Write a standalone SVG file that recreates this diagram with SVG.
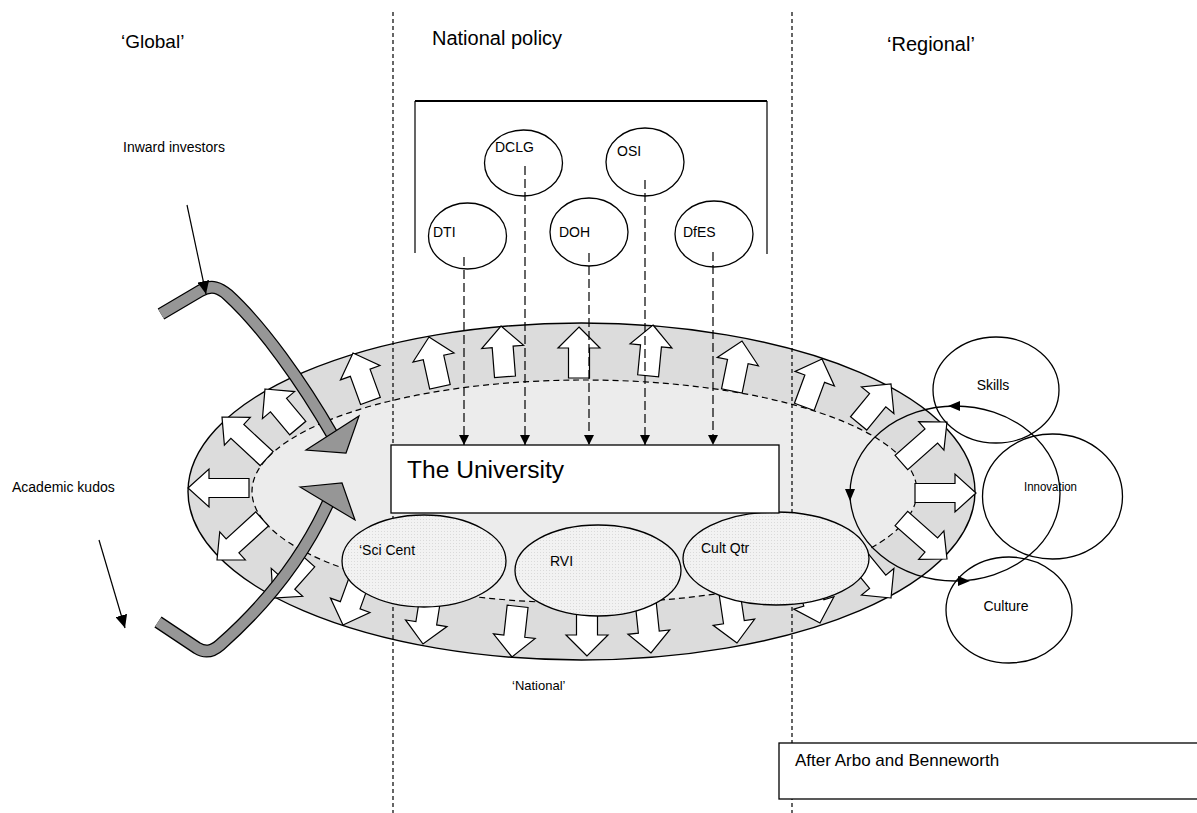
<svg xmlns="http://www.w3.org/2000/svg" xmlns:xlink="http://www.w3.org/1999/xlink" width="1197" height="813" viewBox="0 0 1197 813">
<style>
text{font-family:"Liberation Sans",Arial,sans-serif;fill:#000}
.ol{fill:none;stroke:#000;stroke-width:1.3}
.wf{fill:#fff;stroke:#000;stroke-width:1.3}
.ba{fill:#fff;stroke:#000;stroke-width:1.2;stroke-linejoin:miter}
.div{stroke:#000;stroke-width:1.2;stroke-dasharray:4 3;fill:none}
.pl{stroke:#000;stroke-width:1.2;stroke-dasharray:9 4;fill:none}
.thin{stroke:#000;stroke-width:1.2;fill:none}
.gb{fill:none;stroke:#000;stroke-width:13;stroke-linejoin:round}
.gf{fill:none;stroke:#969696;stroke-width:10.5;stroke-linejoin:round}
.gh{fill:#969696;stroke:#000;stroke-width:1.2;stroke-linejoin:miter}
.sm{fill:url(#stip);stroke:#000;stroke-width:1.3}
</style>
<defs>
<pattern id="stip" width="3" height="3" patternUnits="userSpaceOnUse"><rect width="3" height="3" fill="#f2f2f2"/><rect width="1" height="1" fill="#dadada"/></pattern>
<marker id="ah" markerWidth="10" markerHeight="10" refX="10" refY="5" orient="auto" markerUnits="userSpaceOnUse"><path d="M0,0 L10,5 L0,10 Z" fill="#000"/></marker>
<marker id="ah2" markerWidth="13" markerHeight="12" refX="13" refY="6" orient="auto" markerUnits="userSpaceOnUse"><path d="M0,0 L13,6 L0,12 Z" fill="#000"/></marker>
<path id="a51" d="M0,0 L21,21 L10.5,21 L10.5,51 L-10.5,51 L-10.5,21 L-21,21 Z"/>
<path id="a60" d="M0,0 L19,21 L9.5,21 L9.5,61 L-9.5,61 L-9.5,21 L-19,21 Z"/>
</defs>
<rect width="1197" height="813" fill="#fff"/>

<g id="ring">
<ellipse cx="581.5" cy="491.5" rx="393.5" ry="168.5" fill="#dcdcdc" stroke="#000" stroke-width="1.4"/>
<ellipse cx="584.5" cy="491.5" rx="332.5" ry="111.5" fill="#ececec" stroke="#000" stroke-width="1.2" stroke-dasharray="6 4"/>
</g>

<g id="ring-arrows" class="ba">
<use xlink:href="#a51" transform="translate(429,337) rotate(-12.4)"/>
<use xlink:href="#a51" transform="translate(501,326) rotate(-4.5)"/>
<use xlink:href="#a51" transform="translate(579,327)"/>
<use xlink:href="#a51" transform="translate(653,325) rotate(5.5)"/>
<use xlink:href="#a51" transform="translate(742,341) rotate(11.5)"/>
<use xlink:href="#a51" transform="translate(822,359) rotate(20.3)"/>
<use xlink:href="#a51" transform="translate(891,384) rotate(39.4)"/>
<use xlink:href="#a60" transform="translate(947,422) rotate(48.4)"/>
<use xlink:href="#a60" transform="translate(976,493) rotate(90)"/>
<use xlink:href="#a60" transform="translate(947,559) rotate(131.6)"/>
<use xlink:href="#a51" transform="translate(891,598) rotate(140.6)"/>
<use xlink:href="#a51" transform="translate(820,623) rotate(163)"/>
<use xlink:href="#a51" transform="translate(737,643) rotate(171.5)"/>
<use xlink:href="#a51" transform="translate(651,653) rotate(174)"/>
<use xlink:href="#a51" transform="translate(587,656) rotate(180)"/>
<use xlink:href="#a51" transform="translate(512,657) rotate(186.3)"/>
<use xlink:href="#a51" transform="translate(423,644) rotate(189)"/>
<use xlink:href="#a51" transform="translate(343,625) rotate(200)"/>
<use xlink:href="#a51" transform="translate(273,598) rotate(221.6)"/>
<use xlink:href="#a60" transform="translate(217,560) rotate(227.7)"/>
<use xlink:href="#a60" transform="translate(188,488) rotate(270)"/>
<use xlink:href="#a60" transform="translate(222,417) rotate(313)"/>
<use xlink:href="#a51" transform="translate(265,389) rotate(320)"/>
<use xlink:href="#a51" transform="translate(353,353) rotate(340)"/>
</g>

<g id="dividers">
<line class="div" x1="393" y1="12" x2="393" y2="813"/>
<line class="div" x1="792" y1="12" x2="792" y2="813"/>
</g>

<g id="sci-cent"><ellipse class="sm" cx="424" cy="561" rx="82" ry="46"/><text x="359" y="555" font-size="14">‘Sci Cent</text></g>
<g id="rvi"><ellipse class="sm" cx="598" cy="570.5" rx="83" ry="45.5"/><text x="550" y="566" font-size="14">RVI</text></g>
<g id="cult-qtr"><ellipse class="sm" cx="776" cy="558.5" rx="93" ry="46.5"/><text x="701" y="553" font-size="14">Cult Qtr</text></g>

<g id="university"><rect class="wf" x="391" y="445" width="388" height="68"/><text x="407" y="478" font-size="23" textLength="157" lengthAdjust="spacingAndGlyphs">The University</text></g>

<g id="policy">
<path d="M415,101 L767,101" stroke="#000" stroke-width="2.2" fill="none"/>
<path d="M415,101 L415,253 M767,101 L767,254" class="thin" stroke-width="1.5"/>
</g>
<g id="dti"><ellipse class="wf" cx="467.5" cy="236" rx="39" ry="33"/><text x="433" y="237" font-size="14">DTI</text></g>
<g id="dclg"><ellipse class="wf" cx="523.5" cy="163" rx="39" ry="33"/><text x="495" y="152" font-size="14">DCLG</text></g>
<g id="doh"><ellipse class="wf" cx="589" cy="232" rx="39" ry="34"/><text x="559" y="237" font-size="14">DOH</text></g>
<g id="osi"><ellipse class="wf" cx="645" cy="162" rx="39" ry="34"/><text x="617" y="156" font-size="14">OSI</text></g>
<g id="dfes"><ellipse class="wf" cx="714" cy="234" rx="39" ry="33"/><text x="683" y="237" font-size="14">DfES</text></g>

<g id="connectors">
<line class="pl" x1="464" y1="257" x2="464" y2="445" marker-end="url(#ah)"/>
<line class="pl" x1="525" y1="166" x2="525" y2="445" marker-end="url(#ah)"/>
<line class="pl" x1="589" y1="253" x2="589" y2="445" marker-end="url(#ah)"/>
<line class="pl" x1="645" y1="180" x2="645" y2="445" marker-end="url(#ah)"/>
<line class="pl" x1="713" y1="252" x2="713" y2="445" marker-end="url(#ah)"/>
<g id="inward-arrow">
<path class="gb" d="M161,314 L200,291 C212,284 220,288 228,295 C262,326 302,382 333,436"/>
<path class="gf" d="M161,314 L200,291 C212,284 220,288 228,295 C262,326 302,382 333,436"/>
<polygon class="gh" points="306,450 359,416 346,453"/>
</g>
<g id="kudos-arrow">
<path class="gb" d="M158,622 L197,648 C205,653 212,652 220,645 C262,608 302,560 328,503"/>
<path class="gf" d="M158,622 L197,648 C205,653 212,652 220,645 C262,608 302,560 328,503"/>
<polygon class="gh" points="300,487 342,483 355,520"/>
</g>
<line class="thin" x1="187" y1="205" x2="206" y2="294" marker-end="url(#ah2)"/>
<line class="thin" x1="99" y1="540" x2="125" y2="628" marker-end="url(#ah2)"/>
<g id="regional-cycle">
<ellipse class="ol" cx="955" cy="493.5" rx="105" ry="87.5"/>
<path d="M948,406 L960,401 L960,411 Z M850,501 L845,489 L855,489 Z M970,581 L958,576 L958,586 Z" fill="#000"/>
</g>
</g>

<g id="skills"><ellipse class="ol" cx="996" cy="390" rx="63" ry="53"/><text x="993" y="390" font-size="14" text-anchor="middle">Skills</text></g>
<g id="innovation"><ellipse class="ol" cx="1052.5" cy="496.5" rx="70" ry="62.5"/><text x="1024" y="491" font-size="12" textLength="53" lengthAdjust="spacingAndGlyphs">Innovation</text></g>
<g id="culture"><ellipse class="ol" cx="1009" cy="610" rx="63" ry="53"/><text x="1006" y="611" font-size="14" text-anchor="middle">Culture</text></g>

<g id="labels">
<text x="121" y="48" font-size="19">‘Global’</text>
<text x="432" y="45" font-size="20">National policy</text>
<text x="887" y="51" font-size="20">‘Regional’</text>
<text x="123" y="152" font-size="14">Inward investors</text>
<text x="12" y="492" font-size="14">Academic kudos</text>
<text x="512" y="690" font-size="13">‘National’</text>
</g>

<g id="source"><rect class="wf" x="779" y="743" width="430" height="56"/><text x="795" y="766" font-size="17">After Arbo and Benneworth</text></g>
</svg>
